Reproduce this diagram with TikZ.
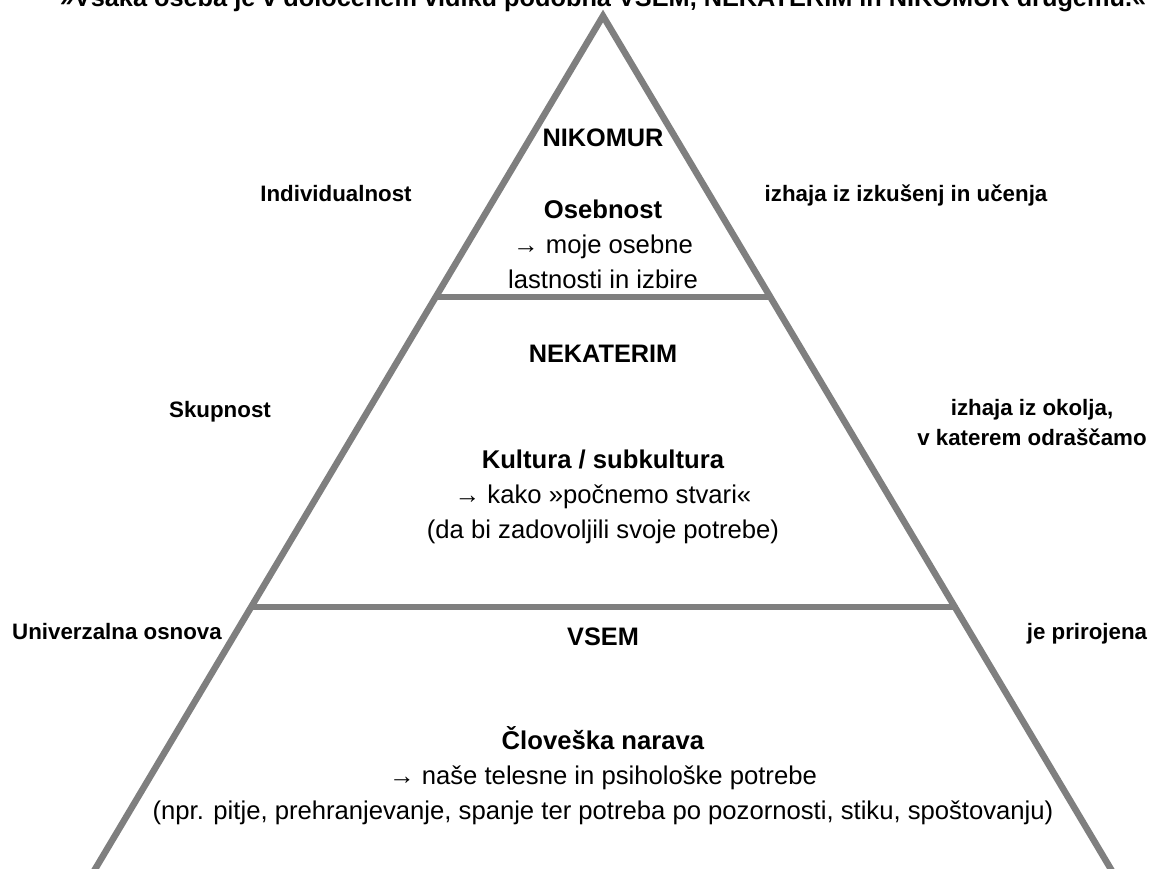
\documentclass[tikz,border=0pt]{standalone}
\usepackage{fontspec}
\setmainfont{Liberation Sans}
\usetikzlibrary{calc}

\definecolor{pyrgray}{HTML}{7F7F7F}

\tikzset{
    edge/.style={draw=pyrgray, line width=3.7pt},
    side/.style={font=\fontsize{12.7}{17}\selectfont\bfseries, align=center, anchor=base},
    head/.style={font=\fontsize{14.4}{19.8}\selectfont\bfseries, anchor=base},
    body/.style={font=\fontsize{14.6}{19.7}\selectfont, align=center, anchor=base}
}

\begin{document}
\begin{tikzpicture}[x=0.02cm,y=-0.02cm]

\useasboundingbox (0,0) rectangle (1151,868);

\coordinate (top) at (603,16);
\coordinate (bl) at (91,876);
\coordinate (br) at (1115,876);

\coordinate (l1) at ($(top)!0.3267!(bl)$);
\coordinate (r1) at ($(top)!0.3267!(br)$);
\coordinate (l2) at ($(top)!0.6872!(bl)$);
\coordinate (r2) at ($(top)!0.6872!(br)$);

\draw[edge] (bl) -- (top) -- (br);
\draw[edge] (l1) -- (r1);
\draw[edge] (l2) -- (r2);

\node[head] (motto) at (603,7) {»Vsaka oseba je v določenem vidiku podobna VSEM, NEKATERIM in NIKOMUR drugemu.«};

\node[head] (nikomur) at (603,147) {NIKOMUR};
\node[head] (nekaterim) at (603,362) {NEKATERIM};
\node[head] (vsem) at (603,645) {VSEM};

% base anchor = last line
\node[body] (osebnost) at (603,288) {\textbf{Osebnost}\\→ moje osebne\\lastnosti in izbire};
\node[body] (kultura) at (603,538) {\textbf{Kultura / subkultura}\\→ kako »počnemo stvari«\\(da bi zadovoljili svoje potrebe)};
\node[body] (narava) at (603,819) {\textbf{Človeška narava}\\→ naše telesne in psihološke potrebe\\(npr. pitje, prehranjevanje, spanje ter potreba po pozornosti, stiku, spoštovanju)};

\node[side] (indiv) at (336,201) {Individualnost};
\node[side] (izkus) at (906,201) {izhaja iz izkušenj in učenja};
\node[side] (skup) at (220,417) {Skupnost};
\node[side] (okolje) at (1032,445) {izhaja iz okolja,\\ v katerem odraščamo};
\node[side] (univ) at (117,639) {Univerzalna osnova};
\node[side] (prirojena) at (1087,639) {je prirojena};

\end{tikzpicture}
\end{document}
